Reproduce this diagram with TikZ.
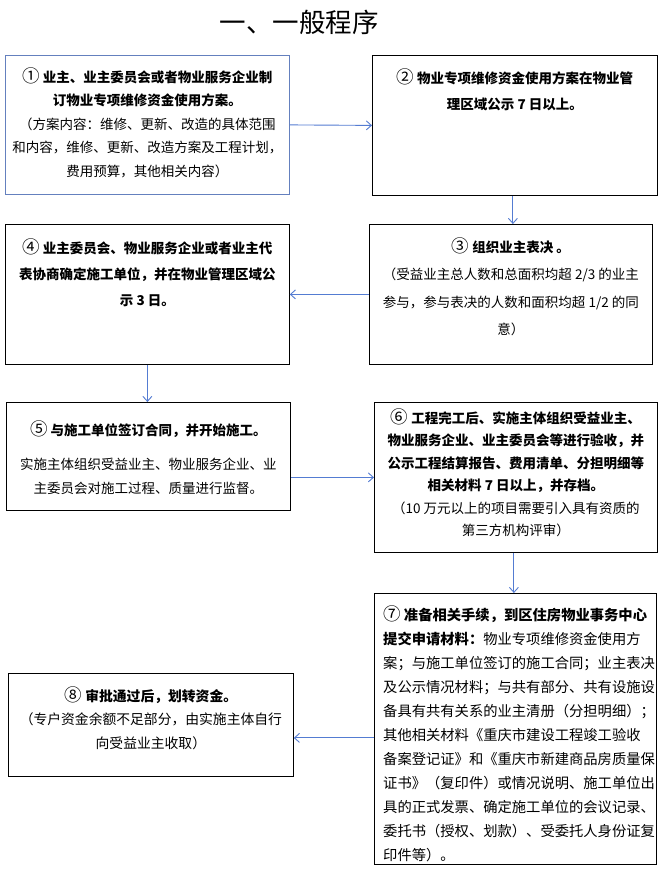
\documentclass[tikz,border=0pt]{standalone}
\usepackage{fontspec}
\newfontfamily\cjk{Noto Sans CJK SC}
\usetikzlibrary{arrows.meta}
\definecolor{arrblue}{RGB}{84,124,210}
\definecolor{boxblue}{RGB}{100,128,190}
\tikzset{
  box/.style={draw=black, line width=0.8pt, anchor=north west, inner sep=0pt},
  tx/.style={align=center, anchor=north, inner sep=0pt, text=black},
  arr/.style={draw=arrblue, line width=0.9pt, -{Straight Barb[length=5pt,width=9pt]}},
}
\newcommand{\fs}[2]{\cjk\fontsize{#1}{#2}\selectfont}
\newcommand{\cnum}[1]{{\fontsize{17.5}{17.5}\selectfont\mdseries #1}}
\begin{document}
\begin{tikzpicture}[x=1pt,y=1pt]
\fill[white] (0,0) rectangle (664,-878);
\useasboundingbox (0,0) rectangle (664,-878);

\node[font=\fs{26.5}{30}, inner sep=0pt] (title) at (299,-22) {一、一般程序};

% boxes
\node[box, draw=boxblue, minimum width=284pt, minimum height=139pt] (b1) at (5,-55) {};
\node[box, minimum width=285pt, minimum height=140pt] (b2) at (372,-55) {};
\node[box, minimum width=283pt, minimum height=140pt] (b3) at (369,-224) {};
\node[box, minimum width=284pt, minimum height=140pt] (b4) at (5,-224) {};
\node[box, minimum width=284pt, minimum height=108pt] (b5) at (6,-402) {};
\node[box, minimum width=283pt, minimum height=150pt] (b6) at (374,-402) {};
\node[box, minimum width=282pt, minimum height=271pt] (b7) at (374,-593) {};
\node[box, minimum width=285pt, minimum height=103pt] (b8) at (8,-673) {};

% texts
\node[tx, font=\fs{13.5}{23.5}] (t1) at ([yshift=-12pt]b1.north) {%
{\bfseries \cnum{①} 业主、业主委员会或者物业服务企业制}\\
{\bfseries 订物业专项维修资金使用方案。}\\
（方案内容：维修、更新、改造的具体范围\\
和内容，维修、更新、改造方案及工程计划，\\
费用预算，其他相关内容）};

\node[tx, font=\fs{13.5}{26}] (t2) at ([yshift=-13pt]b2.north) {%
{\bfseries \cnum{②} 物业专项维修资金使用方案在物业管}\\
{\bfseries 理区域公示 7 日以上。}};

\node[tx, font=\fs{13.5}{27.5}] (t3) at ([yshift=-13pt]b3.north) {%
{\bfseries \cnum{③} 组织业主表决 。}\\
（受益业主总人数和总面积均超 2/3 的业主\\
参与，参与表决的人数和面积均超 1/2 的同\\
意）};

\node[tx, font=\fs{13.5}{26}] (t4) at ([yshift=-14pt]b4.north) {%
{\bfseries \cnum{④} 业主委员会、物业服务企业或者业主代}\\
{\bfseries 表协商确定施工单位，并在物业管理区域公}\\
{\bfseries 示 3 日。}};

\node[tx, font=\fs{13.5}{24}] (t5) at ([yshift=-18pt]b5.north) {%
{\bfseries \cnum{⑤} 与施工单位签订合同，并开始施工。}\\[10pt]
实施主体组织受益业主、物业服务企业、业\\
主委员会对施工过程、质量进行监督。};

\node[tx, font=\fs{13.5}{22.5}] (t6) at ([yshift=-6pt]b6.north) {%
{\bfseries \cnum{⑥} 工程完工后、实施主体组织受益业主、}\\
{\bfseries 物业服务企业、业主委员会等进行验收，并}\\
{\bfseries 公示工程结算报告、费用清单、分担明细等}\\
{\bfseries 相关材料 7 日以上，并存档。}\\
（10 万元以上的项目需要引入具有资质的\\
第三方机构评审）};

\node[tx, anchor=north west, align=left, font=\fs{14.3}{24}] (t7) at ([xshift=9pt,yshift=-12pt]b7.north west) {%
{\bfseries \cnum{⑦} 准备相关手续，到区住房物业事务中心}\\
{\bfseries 提交申请材料：}物业专项维修资金使用方\\
案；与施工单位签订的施工合同；业主表决\\
及公示情况材料；与共有部分、共有设施设\\
备具有共有关系的业主清册（分担明细）；\\
其他相关材料《重庆市建设工程竣工验收\\
备案登记证》和《重庆市新建商品房质量保\\
证书》（复印件）或情况说明、施工单位出\\
具的正式发票、确定施工单位的会议记录、\\
委托书（授权、划款）、受委托人身份证复\\
印件等）。};

\node[tx, font=\fs{13.8}{23.5}] (t8) at ([yshift=-13pt]b8.north) {%
{\bfseries \cnum{⑧} 审批通过后，划转资金。}\\
（专户资金余额不足部分，由实施主体自行\\
向受益业主收取）};

% connectors
\draw[arr] (b1.east) -- (b2.west);
\draw[arr] ([xshift=-2pt]b2.south) -- ([xshift=-2pt]b2.south |- b3.north);
\draw[arr] (b3.west) -- (b4.east);
\draw[arr] (b4.south) -- (b4.south |- b5.north);
\draw[arr] ([yshift=-21pt]b5.east) -- ([yshift=-21pt]b5.east -| b6.west);
\draw[arr] ([xshift=-2pt]b6.south) -- ([xshift=-2pt]b6.south |- b7.north);
\draw[arr] ([yshift=-9pt]b7.west) -- ([yshift=-9pt]b7.west -| b8.east);
\end{tikzpicture}
\end{document}
